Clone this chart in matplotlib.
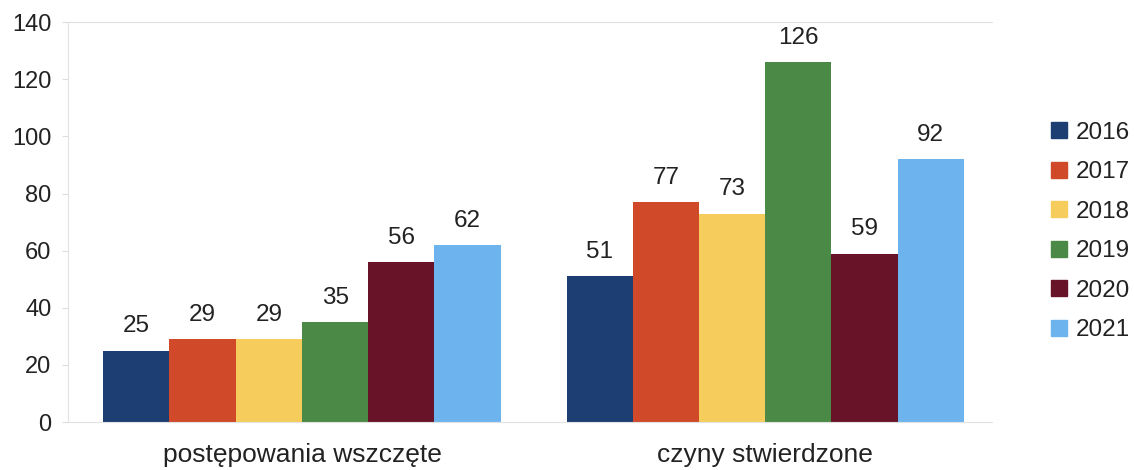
import numpy as np
import matplotlib.pyplot as plt
from matplotlib.patches import Patch

plt.rcParams['font.family'] = ['Liberation Sans', 'DejaVu Sans']

categories = ['postępowania wszczęte', 'czyny stwierdzone']
years = ['2016', '2017', '2018', '2019', '2020', '2021']
values = [
    [25, 51],
    [29, 77],
    [29, 73],
    [35, 126],
    [56, 59],
    [62, 92],
]
colors = ['#1d3e72', '#d04a2a', '#f6cd5c', '#4b8a46', '#681327', '#6db3ee']

fig = plt.figure(figsize=(11.34, 4.7), dpi=100)
ax = fig.add_axes([0.06, 0.102, 0.815, 0.851])

x = np.arange(len(categories))
w = 0.143
for i, (yr, vals) in enumerate(zip(years, values)):
    pos = x + (i - 2.5) * w
    ax.bar(pos, vals, width=w, color=colors[i], label=yr)
    for p, v in zip(pos, vals):
        ax.annotate(str(v), (p, v), xytext=(0, 9.5), textcoords='offset points',
                    ha='center', va='bottom', fontsize=17.5, color='#222222')

ax.set_xlim(-0.505, 1.49)
ax.set_ylim(0, 140)
ax.set_yticks(range(0, 141, 20))
ax.set_xticks(x)
ax.set_xticklabels(categories)
ax.tick_params(axis='y', labelsize=17, length=4, color='#dddddd', labelcolor='#222222', pad=8)
ax.tick_params(axis='x', labelsize=19, length=0, labelcolor='#222222', pad=15)
for s in ['left', 'top', 'bottom']:
    ax.spines[s].set_color('#e2e2e2')
ax.spines['right'].set_visible(False)

handles = [Patch(color=c, label=y) for c, y in zip(colors, years)]
ax.legend(handles=handles, loc='center left', bbox_to_anchor=(1.04, 0.476), frameon=False,
          fontsize=17.5, handlelength=0.65, handleheight=0.65, handletextpad=0.35,
          labelspacing=0.72, labelcolor='#222222')

fig.savefig('out.png', dpi=100)
